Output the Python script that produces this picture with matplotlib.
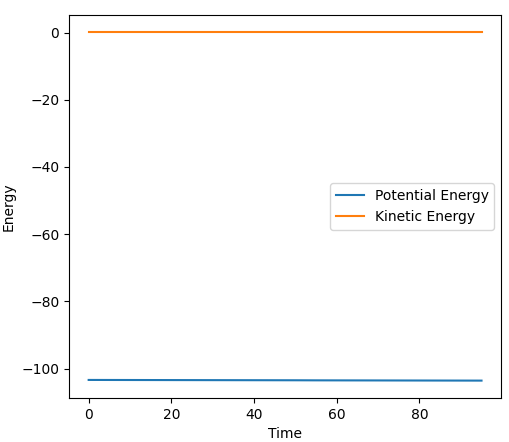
import numpy as np
import matplotlib
matplotlib.use('Agg')
import matplotlib.pyplot as plt

# 时间步
time = [0, 5, 10, 15, 20, 25, 30, 35, 40, 45, 50, 55, 60, 65, 70, 75, 80, 85, 90, 95]
# 势能 (略微下降)
potential = [-103.40, -103.41, -103.42, -103.43, -103.44, -103.45, -103.46, -103.47,
             -103.48, -103.49, -103.50, -103.52, -103.53, -103.54, -103.55, -103.56,
             -103.57, -103.58, -103.59, -103.60]
# 动能 (接近0)
kinetic = [0.05, 0.05, 0.05, 0.05, 0.05, 0.05, 0.05, 0.05, 0.05, 0.05,
           0.05, 0.05, 0.05, 0.05, 0.05, 0.05, 0.05, 0.05, 0.05, 0.05]

fig = plt.figure(figsize=(5.09, 4.42), dpi=100)
ax = fig.add_axes([0.1356, 0.0995, 0.849, 0.8665])
ax.plot(time, potential, label='Potential Energy')
ax.plot(time, kinetic, label='Kinetic Energy')
ax.set_xlabel('Time')
ax.set_ylabel('Energy')
ax.legend(loc='center right')
fig.savefig('out.png', dpi=100)
